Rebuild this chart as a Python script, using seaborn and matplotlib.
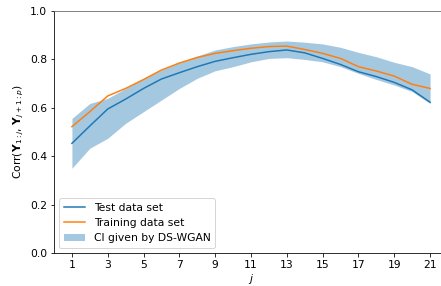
import numpy as np
import pandas as pd
import matplotlib
matplotlib.use("Agg")
import matplotlib.pyplot as plt
import seaborn as sns

# correlation per split index j
j = list(range(1, 22))
test_corr = [0.453, 0.525, 0.595, 0.636, 0.680, 0.719, 0.745, 0.770, 0.792, 0.807, 0.821,
             0.832, 0.839, 0.827, 0.804, 0.779, 0.749, 0.729, 0.705, 0.674, 0.623]
train_corr = [0.522, 0.584, 0.649, 0.680, 0.717, 0.756, 0.785, 0.808, 0.825, 0.836, 0.846,
              0.853, 0.855, 0.841, 0.825, 0.804, 0.770, 0.752, 0.731, 0.697, 0.680]
ci_upper = [0.556, 0.618, 0.639, 0.680, 0.722, 0.756, 0.787, 0.814, 0.839, 0.853, 0.864,
            0.872, 0.876, 0.871, 0.864, 0.850, 0.829, 0.811, 0.788, 0.770, 0.740]
ci_lower = [0.350, 0.433, 0.474, 0.536, 0.584, 0.632, 0.680, 0.722, 0.753, 0.770, 0.790,
            0.804, 0.807, 0.800, 0.790, 0.770, 0.742, 0.717, 0.694, 0.667, 0.618]

data = pd.DataFrame({"j": j, "test": test_corr, "train": train_corr,
                     "lo": ci_lower, "hi": ci_upper})

fs = 10.7
fig = plt.figure(figsize=(441 / 72, 286 / 72), dpi=72)
ax = fig.add_axes([54 / 441, 33 / 286, 394 / 441, 242 / 286])

ax.fill_between(data["j"], data["lo"], data["hi"], color="C0", alpha=0.4,
                linewidth=0, label="CI given by DS-WGAN")
sns.lineplot(data=data, x="j", y="test", ax=ax, color="C0", linewidth=1.5,
             label="Test data set")
sns.lineplot(data=data, x="j", y="train", ax=ax, color="C1", linewidth=1.5,
             label="Training data set")

ax.set_xlim(0, 22)
ax.set_ylim(0, 1.0)
ax.set_xticks(range(1, 22, 2))
ax.set_yticks(np.arange(0, 1.01, 0.2))
ax.set_xlabel("$j$", fontsize=fs, labelpad=2)
ax.set_ylabel(r"Corr$(\mathbf{Y}_{1:j},\,\mathbf{Y}_{j+1:p})$", fontsize=fs)
ax.tick_params(labelsize=fs)
ax.spines["top"].set_color("0.4")

h, l = ax.get_legend_handles_labels()
order = [l.index("Test data set"), l.index("Training data set"), l.index("CI given by DS-WGAN")]
ax.legend([h[i] for i in order], [l[i] for i in order], loc="lower left", fontsize=fs)

fig.savefig("out.png", dpi=72)
